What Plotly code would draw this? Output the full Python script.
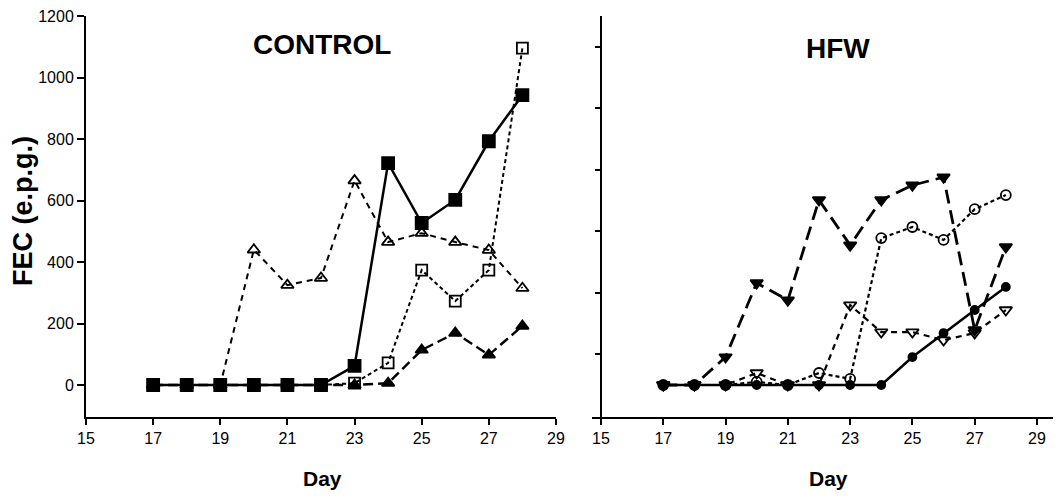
import plotly.graph_objects as go

W, H = 1061, 501
OFF = 8  # page body margin
FW, FH = W - 2 * OFF, H - 2 * OFF

def px(x):
    return (x - OFF) / FW

def py(y):
    return 1 - (y - OFF) / FH

days = [17, 18, 19, 20, 21, 22, 23, 24, 25, 26, 27, 28]

# CONTROL panel
ctrl_filled_sq = [0, 0, 0, 0, 0, 0, 62, 722, 527, 602, 793, 943]
ctrl_open_tri = [0, 0, 0, 440, 325, 348, 665, 465, 494, 465, 439, 315]
ctrl_open_sq = [0, 0, 0, 0, 0, 0, 6, 72, 374, 273, 374, 1096]
ctrl_filled_tri = [0, 0, 0, 0, 0, 0, 0, 6, 114, 169, 98, 192]

# HFW panel
hfw_filled_dtri = [0, 0, 91, 332, 276, 602, 455, 602, 650, 676, 179, 449]
hfw_open_circ = [0, 0, 0, 10, 0, 39, 20, 478, 514, 472, 572, 618]
hfw_open_dtri = [0, 0, 0, 39, 0, 0, 260, 172, 172, 146, 169, 244]
hfw_filled_circ = [0, 0, 0, 0, 0, 0, 0, 0, 91, 169, 244, 319]

x_ticks = [15, 17, 19, 21, 23, 25, 27, 29]
y_ticks_left = [0, 200, 400, 600, 800, 1000, 1200]
y_ticks_right = [100, 300, 500, 700, 900, 1100]

FONT = "Liberation Sans, Arial"

fig = go.Figure()

def add(x, y, xa, ya, symbol, dash, width, size):
    fig.add_trace(go.Scatter(
        x=x, y=y, xaxis=xa, yaxis=ya, mode="lines+markers",
        line=dict(color="black", width=width, dash=dash),
        marker=dict(symbol=symbol, size=size, color="black",
                    line=dict(color="black", width=1.8)),
        showlegend=False, cliponaxis=False))

add(days, ctrl_open_tri, "x", "y", "triangle-up-open", "6px,5px", 2.0, 11)
add(days, ctrl_open_sq, "x", "y", "square-open", "4px,3px", 2.0, 11)
add(days, ctrl_filled_tri, "x", "y", "triangle-up", "10px,5px", 2.4, 11)
add(days, ctrl_filled_sq, "x", "y", "square", "solid", 2.5, 12)

add(days, hfw_filled_dtri, "x2", "y2", "triangle-down", "14px,7px", 2.8, 11)
add(days, hfw_open_circ, "x2", "y2", "circle-open", "4px,3px", 2.2, 10)
add(days, hfw_open_dtri, "x2", "y2", "triangle-down-open", "6px,5px", 2.2, 11)
add(days, hfw_filled_circ, "x2", "y2", "circle", "solid", 2.5, 8)

ydom = [py(417), py(16)]
y_lo = -(417 - 385) / 61.5 * 200
yrange = [y_lo, 1200.5]

tickfont = dict(family=FONT, size=16, color="black")

fig.update_layout(
    width=FW, height=FH,
    margin=dict(l=0, r=0, t=0, b=0),
    paper_bgcolor="white", plot_bgcolor="white",
    xaxis=dict(domain=[px(86), px(556)], range=[15, 29.001], tickvals=x_ticks,
               showline=True, linecolor="black", linewidth=2,
               ticks="outside", ticklen=6, tickwidth=1.5, tickcolor="black",
               showgrid=False, zeroline=False, tickfont=tickfont,
               anchor="y", automargin=False, ticklabeloverflow="allow"),
    yaxis=dict(domain=ydom, range=yrange, tickvals=y_ticks_left,
               showline=True, linecolor="black", linewidth=2,
               ticks="outside", ticklen=7, tickwidth=1.5, tickcolor="black",
               showgrid=False, zeroline=False, tickfont=tickfont,
               anchor="x", automargin=False, ticklabeloverflow="allow"),
    xaxis2=dict(domain=[px(592), 1.0],
                range=[15 - 9 / 31.1, 29 + (1053 - 1037) / 31.1], tickvals=x_ticks,
                showline=True, linecolor="black", linewidth=2,
                ticks="outside", ticklen=6, tickwidth=1.5, tickcolor="black",
                showgrid=False, zeroline=False, tickfont=tickfont,
                anchor="y2", automargin=False, ticklabeloverflow="allow"),
    yaxis2=dict(domain=ydom, range=yrange, tickvals=y_ticks_right,
                showticklabels=False,
                showline=True, linecolor="black", linewidth=2,
                ticks="outside", ticklen=5, tickwidth=2, tickcolor="black",
                showgrid=False, zeroline=False,
                anchor="free", position=px(601), automargin=False),
)

ann_font_big = dict(family=FONT, size=28, color="black")
fig.add_annotation(text="<b>CONTROL</b>", x=px(322), y=py(45), xref="paper", yref="paper",
                   showarrow=False, font=ann_font_big, xanchor="center", yanchor="middle")
fig.add_annotation(text="<b>HFW</b>", x=px(838), y=py(48), xref="paper", yref="paper",
                   showarrow=False, font=ann_font_big, xanchor="center", yanchor="middle")
fig.add_annotation(text="<b>Day</b>", x=px(322), y=py(478), xref="paper", yref="paper",
                   showarrow=False, font=dict(family=FONT, size=21, color="black"),
                   xanchor="center", yanchor="middle")
fig.add_annotation(text="<b>Day</b>", x=px(828), y=py(478), xref="paper", yref="paper",
                   showarrow=False, font=dict(family=FONT, size=21, color="black"),
                   xanchor="center", yanchor="middle")
fig.add_annotation(text="<b>FEC (e.p.g.)</b>", x=px(23), y=py(211), xref="paper", yref="paper",
                   showarrow=False, textangle=-90,
                   font=dict(family=FONT, size=27, color="black"),
                   xanchor="center", yanchor="middle")

fig.write_html("out.html")
